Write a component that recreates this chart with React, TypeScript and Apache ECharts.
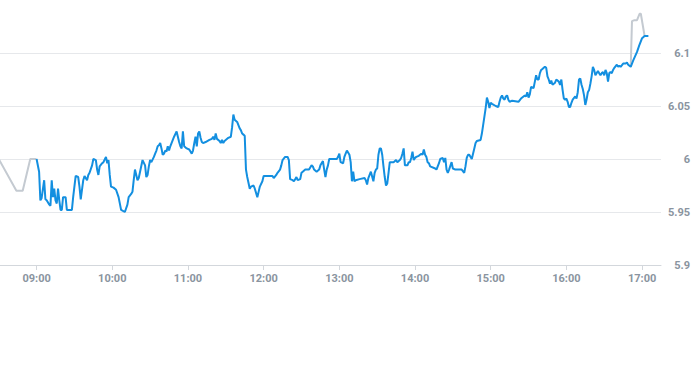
import React, { useEffect, useRef } from "react";
import * as echarts from "echarts";

// Pre-open (grey) trace
const preOpen: [string, number][] = [
  ["08:30", 6.0], ["08:44", 5.97], ["08:49", 5.97], ["08:55", 6.0], ["09:00", 6.0],
];

// Regular session (blue) trace
const session: [string, number][] = [
  ["09:00", 6.000], ["09:02", 5.988], ["09:03", 5.961], ["09:04", 5.963], ["09:06", 5.980],
  ["09:07", 5.962], ["09:08", 5.961], ["09:10", 5.957], ["09:11", 5.956], ["09:12", 5.980],
  ["09:13", 5.964], ["09:14", 5.972], ["09:15", 5.961], ["09:16", 5.958], ["09:17", 5.972],
  ["09:18", 5.961], ["09:19", 5.952], ["09:20", 5.952], ["09:21", 5.964], ["09:23", 5.964],
  ["09:24", 5.952], ["09:28", 5.952], ["09:29", 5.964], ["09:31", 5.984], ["09:33", 5.983],
  ["09:34", 5.974], ["09:35", 5.962], ["09:37", 5.980], ["09:38", 5.984], ["09:40", 5.980],
  ["09:41", 5.985], ["09:42", 5.987], ["09:44", 5.994], ["09:45", 6.000], ["09:47", 5.999],
  ["09:48", 5.990], ["09:49", 5.985], ["09:50", 5.993], ["09:52", 5.996], ["09:53", 5.997],
  ["09:55", 6.002], ["09:56", 5.996], ["09:57", 5.999], ["09:58", 5.985], ["09:59", 5.974],
  ["10:01", 5.973], ["10:03", 5.971], ["10:05", 5.964], ["10:07", 5.952], ["10:10", 5.950],
  ["10:12", 5.957], ["10:13", 5.964], ["10:15", 5.967], ["10:16", 5.969], ["10:17", 5.980],
  ["10:18", 5.990], ["10:20", 5.980], ["10:21", 5.982], ["10:24", 5.999], ["10:26", 5.994],
  ["10:27", 5.983], ["10:28", 5.985], ["10:29", 5.993], ["10:30", 5.999], ["10:31", 5.997],
  ["10:33", 6.002], ["10:34", 6.005], ["10:35", 6.008], ["10:36", 6.012], ["10:37", 6.013],
  ["10:38", 6.015], ["10:39", 6.010], ["10:40", 6.004], ["10:41", 6.005], ["10:42", 6.008],
  ["10:43", 6.007], ["10:44", 6.012], ["10:45", 6.008], ["10:46", 6.012], ["10:48", 6.018],
  ["10:49", 6.021], ["10:51", 6.026], ["10:52", 6.021], ["10:53", 6.016], ["10:54", 6.012],
  ["10:55", 6.010], ["10:56", 6.026], ["10:57", 6.012], ["10:59", 6.010], ["11:01", 6.009],
  ["11:02", 6.007], ["11:03", 6.005], ["11:04", 6.008], ["11:05", 6.015], ["11:06", 6.021],
  ["11:07", 6.012], ["11:08", 6.024], ["11:09", 6.026], ["11:10", 6.020], ["11:11", 6.016],
  ["11:12", 6.015], ["11:14", 6.016], ["11:17", 6.018], ["11:19", 6.019], ["11:20", 6.021],
  ["11:21", 6.018], ["11:22", 6.024], ["11:23", 6.019], ["11:25", 6.017], ["11:26", 6.015],
  ["11:27", 6.018], ["11:28", 6.015], ["11:29", 6.017], ["11:32", 6.020], ["11:34", 6.021],
  ["11:35", 6.030], ["11:36", 6.042], ["11:37", 6.037], ["11:39", 6.035], ["11:40", 6.032],
  ["11:41", 6.029], ["11:42", 6.027], ["11:43", 6.024], ["11:44", 6.023], ["11:45", 6.022],
  ["11:46", 5.990], ["11:47", 5.983], ["11:49", 5.972], ["11:50", 5.974], ["11:52", 5.975],
  ["11:53", 5.972], ["11:55", 5.964], ["11:56", 5.969], ["11:57", 5.974], ["11:59", 5.979],
  ["12:00", 5.984], ["12:07", 5.984], ["12:08", 5.982], ["12:10", 5.985], ["12:11", 5.987],
  ["12:13", 5.990], ["12:14", 5.994], ["12:15", 5.999], ["12:17", 6.002], ["12:19", 6.002],
  ["12:20", 5.999], ["12:21", 5.981], ["12:23", 5.980], ["12:24", 5.979], ["12:25", 5.981],
  ["12:26", 5.983], ["12:27", 5.980], ["12:29", 5.981], ["12:30", 5.987], ["12:31", 5.988],
  ["12:33", 5.990], ["12:36", 5.990], ["12:38", 5.994], ["12:39", 5.993], ["12:40", 5.990],
  ["12:42", 5.988], ["12:44", 5.990], ["12:45", 5.994], ["12:47", 5.998], ["12:48", 5.990],
  ["12:49", 5.983], ["12:50", 5.990], ["12:51", 5.994], ["12:52", 6.000], ["12:58", 6.000],
  ["12:59", 6.002], ["13:00", 6.005], ["13:01", 5.997], ["13:03", 5.996], ["13:04", 6.002],
  ["13:05", 6.005], ["13:06", 6.008], ["13:08", 6.004], ["13:09", 5.997], ["13:10", 5.979],
  ["13:11", 5.988], ["13:12", 5.979], ["13:13", 5.980], ["13:16", 5.981], ["13:20", 5.982],
  ["13:21", 5.980], ["13:22", 5.976], ["13:23", 5.982], ["13:24", 5.985], ["13:25", 5.988],
  ["13:27", 5.979], ["13:28", 5.987], ["13:29", 5.990], ["13:30", 5.991], ["13:31", 6.004],
  ["13:32", 6.010], ["13:33", 6.010], ["13:34", 6.004], ["13:35", 5.993], ["13:36", 5.983],
  ["13:37", 5.975], ["13:38", 5.977], ["13:39", 5.987], ["13:40", 5.997], ["13:43", 5.997],
  ["13:45", 5.999], ["13:46", 5.997], ["13:48", 5.999], ["13:49", 6.001], ["13:50", 6.005],
  ["13:51", 6.010], ["13:52", 5.994], ["13:54", 5.994], ["13:55", 5.997], ["13:56", 5.997],
  ["13:57", 6.001], ["13:58", 6.007], ["13:59", 5.999], ["14:00", 6.001], ["14:01", 6.002],
  ["14:03", 6.003], ["14:05", 6.005], ["14:06", 6.004], ["14:07", 6.009], ["14:08", 6.004],
  ["14:09", 6.002], ["14:10", 5.997], ["14:11", 5.996], ["14:12", 5.993], ["14:16", 5.991],
  ["14:17", 5.990], ["14:19", 5.996], ["14:20", 6.000], ["14:22", 6.001], ["14:23", 5.997],
  ["14:24", 6.001], ["14:25", 5.990], ["14:26", 5.987], ["14:27", 5.990], ["14:29", 5.997],
  ["14:30", 5.991], ["14:32", 5.990], ["14:37", 5.990], ["14:39", 5.987], ["14:40", 5.993],
  ["14:41", 6.001], ["14:42", 6.004], ["14:43", 6.004], ["14:45", 6.000], ["14:46", 6.005],
  ["14:47", 6.010], ["14:48", 6.015], ["14:49", 6.017], ["14:52", 6.018], ["14:53", 6.024],
  ["14:54", 6.032], ["14:55", 6.040], ["14:56", 6.048], ["14:57", 6.058], ["14:58", 6.054],
  ["14:59", 6.048], ["15:00", 6.053], ["15:01", 6.052], ["15:04", 6.050], ["15:06", 6.049],
  ["15:07", 6.054], ["15:08", 6.058], ["15:09", 6.060], ["15:10", 6.057], ["15:11", 6.056],
  ["15:12", 6.059], ["15:13", 6.060], ["15:14", 6.056], ["15:15", 6.054], ["15:17", 6.055],
  ["15:22", 6.054], ["15:24", 6.057], ["15:25", 6.058], ["15:27", 6.060], ["15:28", 6.059],
  ["15:29", 6.063], ["15:30", 6.058], ["15:31", 6.061], ["15:32", 6.068], ["15:34", 6.067],
  ["15:35", 6.073], ["15:36", 6.079], ["15:37", 6.075], ["15:38", 6.075], ["15:39", 6.081],
  ["15:40", 6.084], ["15:41", 6.085], ["15:42", 6.086], ["15:43", 6.087], ["15:44", 6.086],
  ["15:45", 6.078], ["15:46", 6.075], ["15:47", 6.071], ["15:48", 6.074], ["15:49", 6.070],
  ["15:50", 6.071], ["15:51", 6.072], ["15:52", 6.075], ["15:54", 6.073], ["15:55", 6.070],
  ["15:56", 6.075], ["15:57", 6.065], ["15:58", 6.057], ["15:59", 6.056], ["16:00", 6.057],
  ["16:01", 6.054], ["16:02", 6.049], ["16:03", 6.049], ["16:04", 6.053], ["16:05", 6.056],
  ["16:07", 6.059], ["16:08", 6.057], ["16:09", 6.063], ["16:10", 6.075], ["16:11", 6.076],
  ["16:12", 6.070], ["16:13", 6.066], ["16:14", 6.060], ["16:15", 6.051], ["16:16", 6.056],
  ["16:17", 6.063], ["16:18", 6.065], ["16:19", 6.071], ["16:20", 6.078], ["16:21", 6.087],
  ["16:22", 6.084], ["16:23", 6.079], ["16:25", 6.083], ["16:26", 6.081], ["16:27", 6.079],
  ["16:28", 6.081], ["16:29", 6.082], ["16:30", 6.079], ["16:31", 6.084], ["16:32", 6.081],
  ["16:33", 6.073], ["16:34", 6.081], ["16:35", 6.082], ["16:36", 6.081], ["16:37", 6.084],
  ["16:38", 6.086], ["16:40", 6.089], ["16:41", 6.087], ["16:42", 6.088], ["16:43", 6.087],
  ["16:45", 6.090], ["16:47", 6.090], ["16:48", 6.091], ["16:49", 6.089], ["16:50", 6.088],
  ["16:51", 6.087], ["16:53", 6.093], ["16:56", 6.101], ["16:58", 6.108], ["17:00", 6.114],
  ["17:02", 6.116], ["17:05", 6.116],
];

// Closing auction (grey) trace
const closing: [string, number][] = [
  ["16:51", 6.087], ["16:52", 6.130], ["16:54", 6.131], ["16:56", 6.131],
  ["16:58", 6.137], ["16:59", 6.137], ["17:02", 6.116],
];

const hourTicks = ["09:00", "10:00", "11:00", "12:00", "13:00", "14:00", "15:00", "16:00", "17:00"];

const toMin = (t: string) => {
  const [h, m] = t.split(":").map(Number);
  return h * 60 + m;
};
const fmt = (v: number) => {
  const h = Math.floor(v / 60);
  const m = Math.round(v - h * 60);
  return `${String(h).padStart(2, "0")}:${String(m).padStart(2, "0")}`;
};

export default function App() {
  const ref = useRef<HTMLDivElement>(null);
  useEffect(() => {
    if (!ref.current) return;
    const chart = echarts.init(ref.current, undefined, { renderer: "svg" });
    const tickVals = hourTicks.map(toMin);
    chart.setOption({
      animation: false,
      grid: { left: 0, right: 30, top: 0, bottom: 100, containLabel: false },
      xAxis: {
        type: "value",
        min: 511,
        max: 1035,
        axisLine: { show: true, lineStyle: { color: "#d3d7dc", width: 1 } },
        axisTick: { show: true, customValues: tickVals, length: 5, lineStyle: { color: "#d3d7dc" } },
        axisLabel: {
          customValues: tickVals,
          formatter: (v: number) => fmt(v),
          color: "#8a94a0",
          fontSize: 11,
          fontWeight: "bold",
          fontFamily: "Roboto, sans-serif",
          margin: 8,
        },
        splitLine: { show: false },
      },
      yAxis: {
        type: "value",
        position: "right",
        min: 5.9,
        max: 6.15,
        interval: 0.05,
        axisLine: { show: false },
        axisTick: { show: false },
        axisLabel: {
          color: "#8a94a0",
          fontSize: 11,
          fontWeight: "bold",
          fontFamily: "Roboto, sans-serif",
          align: "right",
          margin: 29,
          showMaxLabel: false,
        },
        splitLine: { show: true, showMaxLine: false, lineStyle: { color: "#e6e8eb", width: 1 } },
      },
      series: [
        {
          type: "line",
          data: preOpen.map(([t, v]) => [toMin(t), v]),
          showSymbol: false,
          lineStyle: { color: "#c4cad1", width: 2 },
          z: 1,
        },
        {
          type: "line",
          data: closing.map(([t, v]) => [toMin(t), v]),
          showSymbol: false,
          lineStyle: { color: "#c4cad1", width: 2 },
          z: 1,
        },
        {
          type: "line",
          data: session.map(([t, v]) => [toMin(t), v]),
          showSymbol: false,
          lineStyle: { color: "#138fe0", width: 2 },
          z: 2,
        },
      ],
    });
    return () => chart.dispose();
  }, []);
  return <div ref={ref} style={{ width: 693, height: 365, position: "absolute", left: 0, top: 0 }} />;
}
